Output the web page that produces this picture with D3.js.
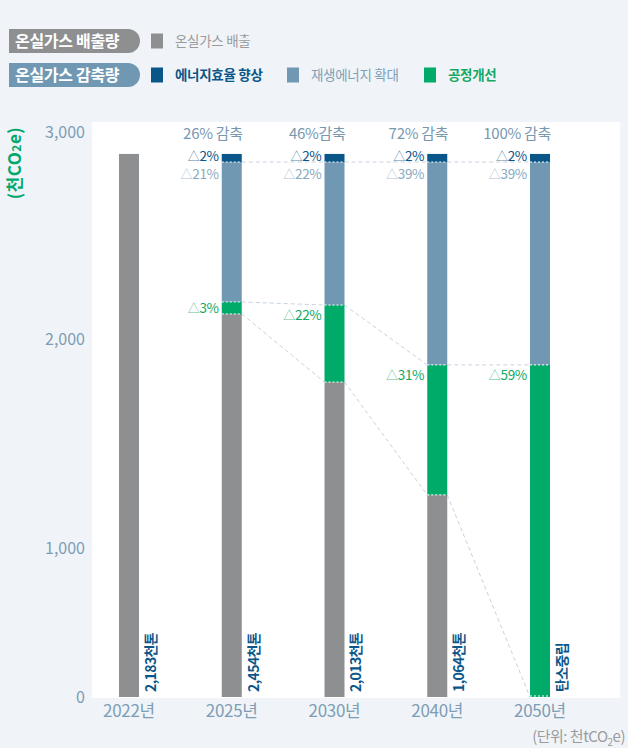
<!DOCTYPE html>
<html><head><meta charset="utf-8">
<script src="https://cdn.jsdelivr.net/npm/d3@7"></script>
<style>
html,body{margin:0;padding:0;background:#f0f4f8;}
svg{display:block;font-family:"Noto Sans CJK KR","Noto Sans",sans-serif;}
</style></head><body>
<svg id="chart" width="628" height="748"></svg>
<script>
// ---- data ----
const years = ["2022년","2025년","2030년","2040년","2050년"];
const emission   = [2894, 2121, 1794, 1254, 0];
const processGain = [0, 58, 370, 622, 1876];
const renewable  = [0, 676, 691, 979, 979];
const efficiency = [0, 39, 39, 39, 39];
const efficiencyLabels = ["", "2%", "2%", "2%", "2%"];
const renewableLabels  = ["", "21%", "22%", "39%", "39%"];
const processLabels    = ["", "3%", "22%", "31%", "59%"];
const reductionLabels  = ["", "26% 감축", "46%감축", "72% 감축", "100% 감축"];
const valueLabels = ["2,183천톤","2,454천톤","2,013천톤","1,064천톤","탄소중립"];
const yTicks = [0, 1000, 2000, 3000];
const seriesKeys  = ["emission","process","renewable","efficiency"];
const seriesNames = ["온실가스 배출","공정개선","재생에너지 확대","에너지효율 향상"];
const badgeNames = ["온실가스 배출량","온실가스 감축량"];

// ---- styles ----
const colors = {emission:"#8e8f91", process:"#00aa68", renewable:"#7198b2", efficiency:"#0b5688"};
const labelColors = {emission:"#9a9b9d", process:"#14a866", renewable:"#7fa0b8", efficiency:"#0b5688"};
const svg = d3.select("#chart");

const table = years.map((yr,i)=>({year:yr, emission:emission[i], process:processGain[i], renewable:renewable[i], efficiency:efficiency[i]}));
const stacked = d3.stack().keys(seriesKeys)(table);

const x = d3.scalePoint().domain(years).range([129, 540]);
const y = d3.scaleLinear().domain([0,1000,2000,3000]).range([697,548,339,132]);
const bw = 20;

// plot background
svg.append("rect").attr("x",92).attr("y",122).attr("width",528).attr("height",576).attr("fill","#ffffff");

// legend badges
const badgeY = [29, 63];
badgeNames.forEach((name,i)=>{
  const y0 = badgeY[i];
  svg.append("path")
    .attr("d",`M9,${y0} H128 A12,12 0 0 1 128,${y0+24} H9 Z`)
    .attr("fill", i===0 ? colors.emission : colors.renewable);
  svg.append("text").attr("x",15).attr("y",y0+12).attr("dy","0.35em")
    .attr("fill","#fff").attr("font-size",16).attr("font-weight",700)
    .attr("letter-spacing","-0.3px").text(name);
});
// legend items
const legendItems = [
  {key:"emission", row:0, x:151},
  {key:"efficiency", row:1, x:151},
  {key:"renewable", row:1, x:287},
  {key:"process", row:1, x:424}
];
legendItems.forEach(it=>{
  const cy = badgeY[it.row]+12;
  svg.append("rect").attr("x",it.x).attr("y",cy-7.5).attr("width",12).attr("height",15).attr("fill",colors[it.key]);
  svg.append("text").attr("x",it.x+24).attr("y",cy).attr("dy","0.35em")
    .attr("font-size",13.5).attr("letter-spacing","-0.3px")
    .attr("font-weight", (it.key==="efficiency"||it.key==="process")?700:400)
    .attr("fill",labelColors[it.key]).text(seriesNames[seriesKeys.indexOf(it.key)]);
});

// y ticks
svg.append("g").selectAll("text").data(yTicks).join("text")
  .attr("x",85).attr("y",d=>y(d)).attr("dy","0.35em").attr("text-anchor","end")
  .attr("font-size",16).attr("fill","#7e9db5").text(d3.format(","));

// y axis title
const yt = svg.append("text").attr("transform","translate(15,163) rotate(-90)")
  .attr("text-anchor","middle").attr("dy","0.35em").attr("font-size",17).attr("font-weight",700)
  .attr("fill","#00a86b").attr("letter-spacing","0.5px");
yt.append("tspan").text("(천CO");
yt.append("tspan").attr("font-size",12).text("2");
yt.append("tspan").text("e)");

// connectors
const conn = svg.append("g").attr("stroke","#c8d3df").attr("stroke-width",1).attr("stroke-dasharray","4,3").attr("fill","none");
for (let i=1;i<years.length-1;i++){
  for (let k=0;k<3;k++){
    const a = stacked[k][i][1], b = stacked[k][i+1][1];
    conn.append("line")
      .attr("x1",x(years[i])+bw/2).attr("y1",y(a))
      .attr("x2",x(years[i+1])-bw/2).attr("y2",y(b));
  }
}

// bars
const layers = svg.append("g").selectAll("g").data(stacked).join("g").attr("fill",d=>colors[d.key]);
layers.selectAll("rect").data(d=>d.filter(s=>s[1]-s[0]>0)).join("rect")
  .attr("x",d=>x(d.data.year)-bw/2).attr("width",bw)
  .attr("y",d=>y(d[1])).attr("height",d=>y(d[0])-y(d[1]));

// white dashed boundaries
const wd = svg.append("g").attr("stroke","#ffffff").attr("stroke-width",1).attr("stroke-dasharray","2,2");
stacked.forEach((layer,k)=>{
  if(k===0) return;
  layer.forEach(s=>{
    if(s[1]-s[0]<=0) return;
    const yy = y(s[0]) - (s[0]===0 ? 1 : 0);
    wd.append("line").attr("x1",x(s.data.year)-bw/2).attr("x2",x(s.data.year)+bw/2)
      .attr("y1",yy).attr("y2",yy);
  });
});

// reduction labels
svg.append("g").selectAll("text").data(years.slice(1)).join("text")
  .attr("x",d=>x(d)+bw/2+1).attr("y",134).attr("dy","0.35em").attr("text-anchor","end")
  .attr("font-size",15).attr("fill","#7898b0").attr("letter-spacing","-0.3px")
  .text((d,i)=>reductionLabels[i+1]);

// delta labels
function deltaLabel(xx, yy, txt, col){
  const t = svg.append("text").attr("x",xx).attr("y",yy).attr("dy","0.35em").attr("text-anchor","end")
    .attr("font-size",13.5).attr("fill",col).attr("letter-spacing","-0.3px");
  t.append("tspan").attr("font-size",12).attr("fill-opacity",0.75).text("△");
  t.append("tspan").text(txt);
}
for (let i=1;i<years.length;i++){
  const xl = x(years[i]) - bw/2 - 3;
  const eff = stacked[3][i], ren = stacked[2][i], pro = stacked[1][i];
  deltaLabel(xl, (y(eff[0])+y(eff[1]))/2 - 2, efficiencyLabels[i], "#0b5688");
  deltaLabel(xl, y(ren[1]) + 12, renewableLabels[i], "#8aaabf");
  deltaLabel(xl, Math.min(y(pro[1]) + 10, (y(pro[0])+y(pro[1]))/2), processLabels[i], "#14a866");
}

// value labels (rotated)
svg.append("g").selectAll("text").data(years).join("text")
  .attr("transform",d=>`translate(${x(d)+bw/2+12},692) rotate(-90)`)
  .attr("dy","0.35em").attr("font-size",14).attr("font-weight",700)
  .attr("letter-spacing","-0.6px").attr("fill","#0b5688")
  .text((d,i)=>valueLabels[i]);

// x labels
svg.append("g").selectAll("text").data(years).join("text")
  .attr("x",d=>x(d)).attr("y",711).attr("dy","0.35em").attr("text-anchor","middle")
  .attr("font-size",17).attr("fill","#7e9db5").attr("letter-spacing","-0.3px").text(d=>d);

// unit label
const ul = svg.append("text").attr("x",625).attr("y",737).attr("dy","0.35em").attr("text-anchor","end")
  .attr("font-size",15).attr("fill","#9b9b9b").attr("letter-spacing","-0.5px");
ul.append("tspan").text("(단위: 천tCO");
ul.append("tspan").attr("font-size",10).attr("dy",4).text("2");
ul.append("tspan").attr("dy",-4).text("e)");
</script>
</body></html>
